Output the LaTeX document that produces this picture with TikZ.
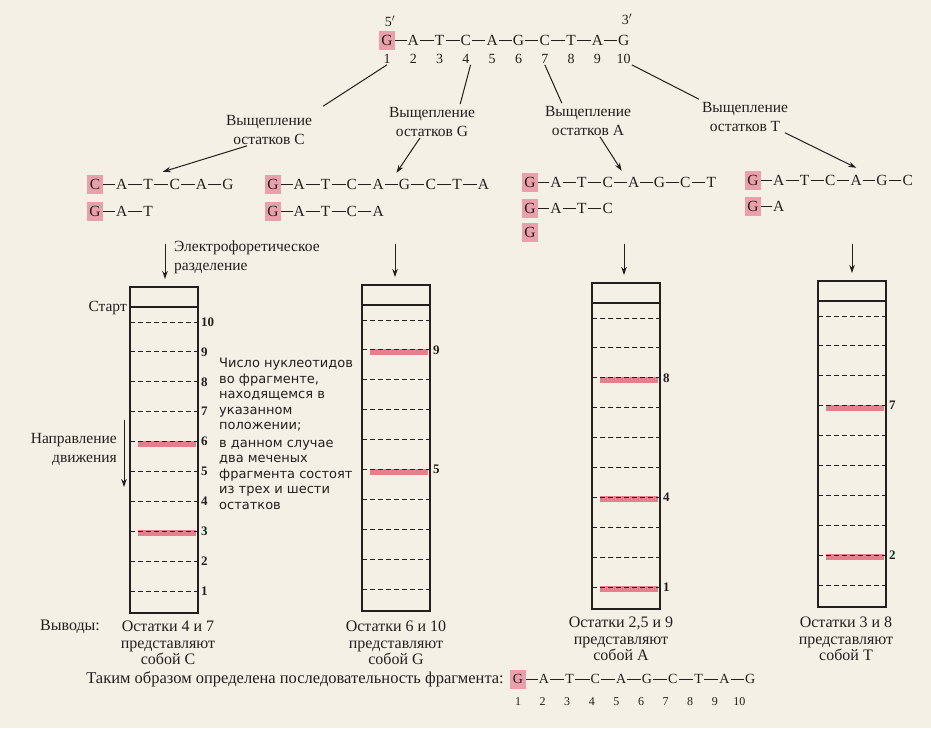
\documentclass[tikz,border=0pt]{standalone}
\usepackage{fontspec}
\setmainfont{Liberation Serif}
\newfontfamily\notefont{DejaVu Sans}
\usetikzlibrary{arrows.meta}
\definecolor{Paper}{HTML}{F4F0E6}
\definecolor{Ink}{HTML}{231F1C}
\definecolor{MarkPink}{HTML}{E9A0AB}
\definecolor{BandRed}{HTML}{DE6476}

% one chain of nucleotides, first one labelled
\newcommand{\dnachain}[6][]{%
  \foreach \l [count=\i] in {#6}{%
    \ifnum\i=1
      \node[nt,marked,#1] (#2\i) at (#3,#4) {\l};
    \else
      \node[nt,#1] (#2\i) at ({#3+(\i-1)*#5},#4) {\l};
      \pgfmathtruncatemacro\j{\i-1}
      \draw[bond] (#2\j) -- (#2\i);
    \fi
  }}

% gel lane: name, left, top, numbered positions, labelled positions
\newcommand{\gellane}[5]{%
  \draw[gelline] (#2,#3) rectangle ++(68,326);
  \draw[gelline] (#2,{#3+20}) -- ++(68,0);
  \foreach \k in {#5}
    \draw[band] ({#2+8},{#3+37+(10-\k)*29.9}) -- ++(58,0);
  \foreach \k in {1,...,10}
    \draw[slot] (#2,{#3+35+(10-\k)*29.9}) -- ++(68,0);
  \foreach \k in {#4}
    \node[gelnum] (#1-\k) at ({#2+70},{#3+35+(10-\k)*29.9}) {\k};
}

\begin{document}
\begin{tikzpicture}[x=1pt,y=-1pt,
    nt/.style={inner sep=1pt,text height=10pt,text depth=0pt,font=\fontsize{15.5}{17}\selectfont,Ink},
    small/.style={text height=9pt,font=\fontsize{14}{16}\selectfont},
    marked/.style={fill=MarkPink,minimum width=16pt,minimum height=19pt},
    bond/.style={Ink,line width=0.9pt},
    num/.style={inner sep=1pt,font=\fontsize{14}{16}\selectfont,Ink},
    lab/.style={align=center,inner sep=1pt,font=\fontsize{15.5}{19}\selectfont,Ink},
    capt/.style={align=center,inner sep=1pt,font=\fontsize{16}{16.5}\selectfont,Ink},
    gelline/.style={Ink,line width=1.2pt},
    slot/.style={Ink,line width=1pt,dash pattern=on 5pt off 3pt},
    band/.style={BandRed,line width=6pt,opacity=0.8},
    gelnum/.style={anchor=west,inner sep=1pt,font=\bfseries\fontsize{13}{15}\selectfont,Ink},
    arr/.style={Ink,line width=1pt,-{Stealth[length=8pt,width=5.5pt]}},
    link/.style={Ink,line width=1pt}]
  \fill[Paper] (0,0) rectangle (931,728);
  \useasboundingbox (0,0) rectangle (931,728);

  % sequence to be read
  \dnachain{s}{387}{40}{26.3}{G,A,T,C,A,G,C,T,A,G}
  \foreach \i in {1,...,10}
    \node[num] (n\i) at ({387+(\i-1)*26.3},59) {\i};
  \node[num] (p5) at (390,21) {5$'$};
  \node[num] (p3) at (627,19) {3$'$};

  % cleavage
  \node[lab] (labC) at (269,130) {Выщепление\\остатков C};
  \node[lab] (labG) at (432,122) {Выщепление\\остатков G};
  \node[lab] (labA) at (588,121) {Выщепление\\остатков A};
  \node[lab] (labT) at (745,117) {Выщепление\\остатков T};
  \draw[link] (n1.south) -- ([xshift=10pt,yshift=8pt]labC.north east);
  \draw[link] (n4.south east) -- ([xshift=-16pt,yshift=2pt]labG.north east);
  \draw[link] (n7.south) -- ([xshift=18pt,yshift=2pt]labA.north west);
  \draw[link] (n10.south east) -- ([xshift=-2pt,yshift=2pt]labT.north west);

  % fragments
  \dnachain{ca}{95}{184}{26.6}{C,A,T,C,A,G}
  \dnachain{cb}{95}{211}{26.6}{G,A,T}
  \dnachain{ga}{273}{184}{26.3}{G,A,T,C,A,G,C,T,A}
  \dnachain{gb}{273}{211}{26.3}{G,A,T,C,A}
  \dnachain{aa}{530}{182}{25.9}{G,A,T,C,A,G,C,T}
  \dnachain{ab}{530}{208}{25.9}{G,A,T,C}
  \dnachain{ac}{530}{232}{25.9}{G}
  \dnachain{ta}{753}{180}{25.8}{G,A,T,C,A,G,C}
  \dnachain{tb}{753}{206}{25.8}{G,A}
  \draw[arr] ([xshift=-22pt]labC.south) -- ([xshift=-12pt,yshift=6pt]ca4.north);
  \draw[arr] ([xshift=-12pt]labG.south) -- ([xshift=-8pt,yshift=5pt]ga6.north);
  \draw[arr] ([xshift=12pt]labA.south) -- ([xshift=14pt,yshift=5pt]aa4.north);
  \draw[arr] ([xshift=-4pt]labT.south east) -- ([yshift=6pt]ta5.north);

  % electrophoresis
  \coordinate (dC0) at (165,244); \coordinate (dC1) at (165,279);
  \coordinate (dG0) at (395,244); \coordinate (dG1) at (395,277);
  \coordinate (dA0) at (624,244); \coordinate (dA1) at (624,275);
  \coordinate (dT0) at (852,244); \coordinate (dT1) at (852,273);
  \foreach \g in {C,G,A,T}
    \draw[arr] (d\g0) -- (d\g1);
  \node[lab,align=left,anchor=west] (elph) at (173,257) {Электрофоретическое\\разделение};

  \gellane{gC}{130}{287}{1,2,3,4,5,6,7,8,9,10}{6,3}
  \gellane{gG}{362}{285}{9,5}{9,5}
  \gellane{gA}{592}{283}{8,4,1}{8,4,1}
  \gellane{gT}{818}{281}{7,2}{7,2}
  \node[lab,anchor=east] (start) at (128,308) {Старт};

  \node[lab,align=right,anchor=east] (dir) at (118,449) {Направление\\движения};
  \coordinate (dir0) at (124,420); \coordinate (dir1) at (124,487);
  \draw[arr] (dir0) -- (dir1);

  \node[anchor=north west,align=left,inner sep=0pt,Ink,
        font=\notefont\fontsize{13}{15.5}\selectfont] (note) at (219,358)
    {Число нуклеотидов\\во фрагменте,\\находящемся в\\указанном\\положении;\\[2pt]
     в данном случае\\два меченых\\фрагмента состоят\\из трех и шести\\остатков};

  % conclusions
  \node[capt] (concl) at (70,627) {Выводы:};
  \node[capt] (capC) at (168,643) {Остатки 4 и 7\\представляют\\собой C};
  \node[capt] (capG) at (396,643) {Остатки 6 и 10\\представляют\\собой G};
  \node[capt] (capA) at (621,639) {Остатки 2,5 и 9\\представляют\\собой A};
  \node[capt] (capT) at (846,639) {Остатки 3 и 8\\представляют\\собой T};

  \node[capt,anchor=east,font=\fontsize{16.5}{18}\selectfont] (result) at (505,679) {Таким образом определена последовательность фрагмента:};
  \dnachain[small]{f}{518}{679}{25.8}{G,A,T,C,A,G,C,T,A,G}
  \foreach \i in {1,...,10}
    \node[num,font=\fontsize{12}{14}\selectfont] (m\i) at ({518+(\i-1)*24.6},702) {\i};
\end{tikzpicture}
\end{document}
